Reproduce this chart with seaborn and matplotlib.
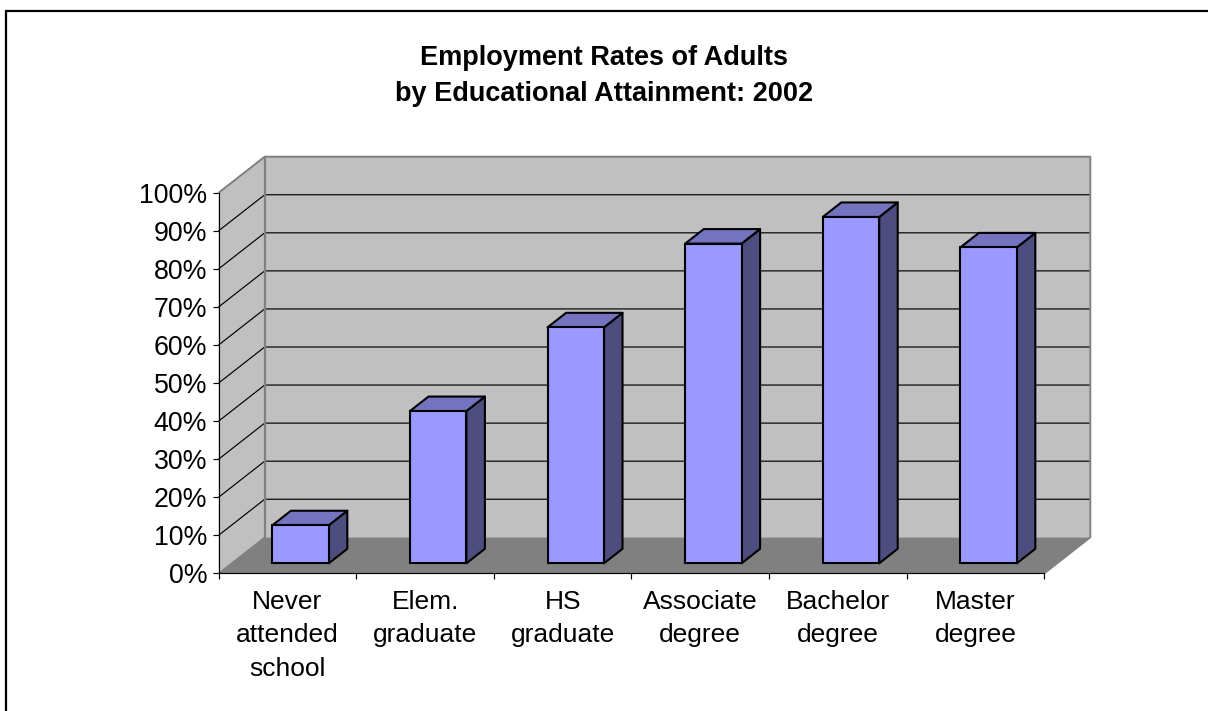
import matplotlib
matplotlib.use('Agg')
import matplotlib.pyplot as plt
from matplotlib.lines import Line2D
from matplotlib.patches import Polygon
import pandas as pd
import seaborn as sns

categories = ['Never\nattended\nschool', 'Elem.\ngraduate', 'HS\ngraduate',
              'Associate\ndegree', 'Bachelor\ndegree', 'Master\ndegree']
rates = [10, 40, 62, 84, 91, 83]
y_ticks = [0, 10, 20, 30, 40, 50, 60, 70, 80, 90, 100]

W, H = 1208, 711
# front plane of the fake 3d box, in pixels
LEFT, RIGHT, BOTTOM, TOP = 218.7, 1044.3, 573.3, 192.7
DEPTH_X, DEPTH_Y = 46, 36
# bars stand a little way into the floor
BAR_SHIFT_X, BAR_SHIFT_Y = 13.1, 10
BAR_DEPTH_X, BAR_DEPTH_Y = 18.5, 14.5

WALL = '#C0C0C0'
FLOOR = '#808080'
BAR_FRONT = '#9999FF'
BAR_SIDE = '#4D4D80'
BAR_TOP = '#7373BF'

sns.set_theme(style='white')
plt.rcParams['font.family'] = ['Liberation Sans', 'DejaVu Sans']

df = pd.DataFrame({'category': categories, 'rate': rates})

fig = plt.figure(figsize=(W / 100, H / 100), dpi=100)
fig.patch.set_facecolor('white')


def axes_rect(x0, x1, y_bottom, y_top):
    return [x0 / W, 1 - y_bottom / H, (x1 - x0) / W, (y_bottom - y_top) / H]


ax = fig.add_axes(axes_rect(LEFT, RIGHT, BOTTOM, TOP))
ax.set_xlim(-0.5, 5.5)
ax.set_ylim(0, 100)
ax.patch.set_visible(False)

# depth of box in data units
dx = DEPTH_X / (RIGHT - LEFT) * 6
dy = DEPTH_Y / (BOTTOM - TOP) * 100

# side wall, back wall, floor
ax.add_patch(Polygon([(-0.5, 0), (-0.5 + dx, dy), (-0.5 + dx, 100 + dy), (-0.5, 100)],
                     fc=WALL, ec='none', clip_on=False, zorder=1))
ax.add_patch(Polygon([(-0.5 + dx, dy), (5.5 + dx, dy), (5.5 + dx, 100 + dy), (-0.5 + dx, 100 + dy)],
                     fc=WALL, ec='none', clip_on=False, zorder=1))
ax.add_patch(Polygon([(-0.5, 0), (5.5, 0), (5.5 + dx, dy), (-0.5 + dx, dy)],
                     fc=FLOOR, ec='none', clip_on=False, zorder=1))

# gridlines run along side wall then back wall
for t in y_ticks[1:-1]:
    ax.plot([-0.5, -0.5 + dx, 5.5 + dx], [t, t + dy, t + dy], color='black', lw=0.85,
            clip_on=False, zorder=2)

# grey outline of the walls
ax.plot([-0.5, -0.5 + dx, 5.5 + dx, 5.5 + dx, 5.5],
        [100, 100 + dy, 100 + dy, dy, 0], color=FLOOR, lw=1.4, clip_on=False, zorder=3)
ax.plot([-0.5 + dx, -0.5 + dx], [100 + dy, dy], color=FLOOR, lw=1.6, clip_on=False, zorder=3)
ax.plot([-0.5, -0.5 + dx], [0, dy], color=FLOOR, lw=1.0, clip_on=False, zorder=3)

for side in ['top', 'right']:
    ax.spines[side].set_visible(False)
for side in ['left', 'bottom']:
    ax.spines[side].set_color('black')
    ax.spines[side].set_linewidth(0.85)
    ax.spines[side].set_zorder(4)

ax.set_yticks(y_ticks)
ax.set_yticklabels([f'{t}%' for t in y_ticks])
ax.set_xticks([i - 0.5 for i in range(7)])
ax.set_xticklabels([])
ax.set_xticks(range(6), labels=categories, minor=True)
ax.tick_params(axis='y', length=4.3, width=0.85, color='black', labelsize=19.3, pad=4,
               labelcolor='black', left=True)
ax.tick_params(axis='x', which='major', length=4.2, width=0.85, color='black', bottom=True)
ax.tick_params(axis='x', which='minor', length=0, labelsize=19, pad=12, labelcolor='black')
for lab in ax.get_xticklabels(minor=True):
    lab.set_linespacing(1.5)

# bars go in their own transparent axes, pushed back into the box
bar_ax = fig.add_axes(axes_rect(LEFT + BAR_SHIFT_X, RIGHT + BAR_SHIFT_X,
                                BOTTOM - BAR_SHIFT_Y, TOP - BAR_SHIFT_Y))
bar_ax.patch.set_visible(False)
sns.barplot(data=df, x='category', y='rate', ax=bar_ax, color=BAR_FRONT, saturation=1,
            width=0.41, edgecolor='black', linewidth=1.5, zorder=6)
bar_ax.set_xlim(-0.5, 5.5)
bar_ax.set_ylim(0, 100)
bar_ax.axis('off')

bx = BAR_DEPTH_X / (RIGHT - LEFT) * 6
by = BAR_DEPTH_Y / (BOTTOM - TOP) * 100
for bar in bar_ax.patches[:len(rates)]:
    x0, x1 = bar.get_x(), bar.get_x() + bar.get_width()
    h = bar.get_height()
    bar_ax.add_patch(Polygon([(x1, 0), (x1 + bx, by), (x1 + bx, h + by), (x1, h)],
                             fc=BAR_SIDE, ec='black', lw=1.5, joinstyle='round',
                             clip_on=False, zorder=5))
    bar_ax.add_patch(Polygon([(x0, h), (x0 + bx, h + by), (x1 + bx, h + by), (x1, h)],
                             fc=BAR_TOP, ec='black', lw=1.5, joinstyle='round',
                             clip_on=False, zorder=5))
    bar.set_clip_on(False)

fig.text(604 / W, 1 - 76 / H, 'Employment Rates of Adults\nby Educational Attainment: 2002',
         ha='center', va='center', fontsize=19.5, fontweight='bold', color='black',
         linespacing=1.5)

# chart area border: only top and left edges are in the picture
fig.add_artist(Line2D([6 / W, 6 / W, 1], [0, 1 - 11 / H, 1 - 11 / H], transform=fig.transFigure,
                      color='black', lw=1.6, solid_joinstyle='miter'))

fig.savefig('out.png', dpi=100)
